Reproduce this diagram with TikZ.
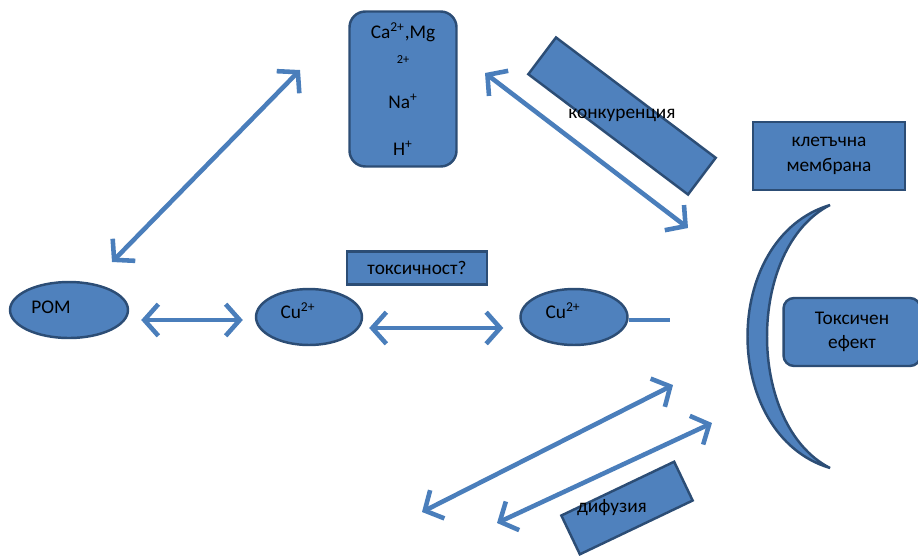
\documentclass[tikz,border=0pt]{standalone}
\usepackage{fontspec}
\setmainfont{Carlito}
\usetikzlibrary{shapes.geometric,arrows.meta,positioning}
\definecolor{shapeblue}{HTML}{4F81BD}
\definecolor{edgeblue}{HTML}{2C4D75}
\definecolor{arrowblue}{HTML}{4A7EBB}

\begin{document}
\begin{tikzpicture}[
  x=0.02cm, y=-0.02cm,
  every node/.style={font=\fontsize{11}{14}\selectfont},
  blue/.style={draw=edgeblue, fill=shapeblue, line width=1.4pt},
  box/.style={blue, align=center, inner sep=0pt},
  rbox/.style={box, rounded corners=6pt},
  ion/.style={box, ellipse, minimum width=2.12cm, minimum height=1.12cm},
  lbl/.style={inner sep=0pt},
  arr/.style={{Straight Barb[length=8pt,width=18pt]}-{Straight Barb[length=8pt,width=18pt]},
              draw=arrowblue, line width=2.6pt, line cap=round, line join=round}
]
\useasboundingbox (0,0) rectangle (918,555);

% Competing cations
\node[rbox, rounded corners=9pt, minimum width=2.14cm, minimum height=3.1cm] (cations) at (403,89)
  {Ca\textsuperscript{2+},Mg\\[0pt]{\scriptsize 2+}\\[12pt]Na\textsuperscript{+}\\[12.3pt]H\textsuperscript{+}};

\node[box, rotate=-37, minimum width=4cm, minimum height=0.92cm] (konkbox) at (622,116) {};
\node[lbl] (konk) at (622,115) {конкуренция};

% Membrane side
\node[box, minimum width=3.04cm, minimum height=1.36cm] (membrane) at (829,156) {клетъчна\\мембрана};
\draw[blue] (830,205) .. controls (720,238) and (720,435) .. (830,468)
  .. controls (746,425) and (746,248) .. (830,205) -- cycle;
\node[rbox, minimum width=2.74cm, minimum height=1.36cm] (effect) at (852,332) {Токсичен\\ефект};

% Copper species
\node[ion, minimum width=2.36cm] (pom) at (69,310) {};
\node[lbl] at ([shift={(-18,-3)}]pom.center) {POM};
\node[ion] (culeft) at (309,317) {};
\node[lbl] at ([shift={(-11,-6)}]culeft.center) {Cu\textsuperscript{2+}};
\node[ion, minimum width=2.14cm] (curight) at (574,317) {};
\node[lbl] at ([shift={(-11,-6)}]curight.center) {Cu\textsuperscript{2+}};
\node[box, minimum width=2.8cm, minimum height=0.66cm] (toxq) at (417,268) {токсичност?};

\node[box, rotate=25.5, minimum width=2.5cm, minimum height=0.86cm] (difbox) at (627,508) {};
\node[lbl] (dif) at (612,508) {дифузия};

% Arrow ends
\coordinate (pomtop) at (112,262);
\coordinate (catleft) at (300,70);
\coordinate (catright) at (485,73);
\coordinate (memtop) at (688,228);
\coordinate (curend) at (670,320);
\coordinate (memlow) at (673,385);
\coordinate (outlow) at (422,512);
\coordinate (memlow2) at (712,423);
\coordinate (outlow2) at (497,523);

% Arrows
\draw[arr] (catleft) -- (pomtop);
\draw[arr] (catright) -- (memtop);
\draw[arr] ([shift={(12,10)}]pom.east) -- ([shift={(-12,3)}]culeft.west);
\draw[arr] ([shift={(6,11)}]culeft.east) -- ([shift={(-16,11)}]curight.west);
\draw[arrowblue, line width=2.6pt] ([shift={(0,3)}]curight.east) -- (curend);
\draw[arr] (memlow) -- (outlow);
\draw[arr] (memlow2) -- (outlow2);
\end{tikzpicture}
\end{document}
